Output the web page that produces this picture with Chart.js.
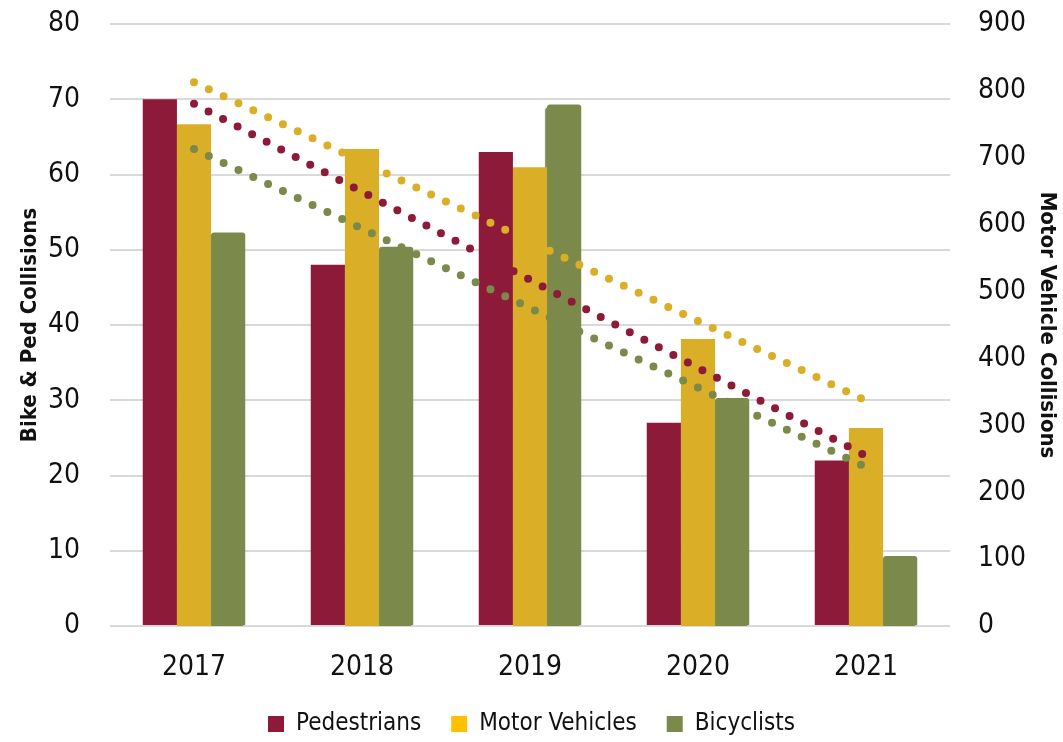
<!DOCTYPE html>
<html>
<head>
<meta charset="utf-8">
<title>Collisions 2017-2021</title>
<script src="https://cdn.jsdelivr.net/npm/chart.js@4.4.1/dist/chart.umd.min.js"></script>
<style>
    html, body { margin: 0; padding: 0; background: #ffffff; }
    #wrap { width: 1063px; height: 742px; }
</style>
</head>
<body>
<div id="wrap"><canvas id="collisionsChart"></canvas></div>
<script>
// Dados
const years = ['2017', '2018', '2019', '2020', '2021'];
const pedestrians = [70, 48, 63, 27, 22];
const motorVehicles = [750, 713, 686, 429, 296];
const bicyclists = [52.3, 50.4, 69.3, 30.3, 9.3];

// Linhas de tendência: valor no primeiro e no último ano
const pedTrend = [69.4, 22.6];
const motorTrend = [813, 337];
const bikeTrend = [63.4, 21.1];

const RED = '#8e1a3a';
const GOLD = '#dbae27';
const GREEN = '#7b8a4a';
const FONT = "'Liberation Sans Narrow', 'DejaVu Sans Condensed', 'Roboto Condensed', sans-serif";

// só o primeiro e o último ponto, o resto fica vazio
function trendPoints(ends) {
    return years.map((y, i) => {
        if (i === 0) return ends[0];
        if (i === years.length - 1) return ends[1];
        return null;
    });
}

function trendLine(label, ends, color, axis) {
    return {
        type: 'line',
        label: label,
        data: trendPoints(ends),
        yAxisID: axis,
        borderColor: color,
        borderWidth: 8,
        borderDash: [0, 16.4],
        borderCapStyle: 'round',
        pointRadius: 0,
        spanGaps: true,
        fill: false,
        order: -1
    };
}

// eixo vertical com largura fixa e sem o padding extra do topo
function fixAxis(width) {
    return scale => {
        scale.width = width;
        scale.paddingTop = 24;
        scale.paddingBottom = 0;
    };
}

// sombra leve das barras de bicicleta
const barShadow = {
    id: 'barShadow',
    beforeDatasetDraw(chart, args) {
        if (args.index !== 2) return;
        const ctx = chart.ctx;
        ctx.save();
        ctx.shadowColor = 'rgba(110, 124, 62, 0.9)';
        ctx.shadowOffsetX = -2;
        ctx.shadowOffsetY = 3;
        ctx.shadowBlur = 1;
    },
    afterDatasetDraw(chart, args) {
        if (args.index === 2) chart.ctx.restore();
    }
};

const ctx = document.getElementById('collisionsChart').getContext('2d');
const chart = new Chart(ctx, {
    type: 'bar',
    data: {
        labels: years,
        datasets: [
            {
                label: 'Pedestrians',
                data: pedestrians,
                yAxisID: 'yLeft',
                backgroundColor: RED
            },
            {
                label: 'Motor Vehicles',
                data: motorVehicles,
                yAxisID: 'yRight',
                backgroundColor: GOLD
            },
            {
                label: 'Bicyclists',
                data: bicyclists,
                yAxisID: 'yLeft',
                backgroundColor: GREEN,
                borderRadius: { topLeft: 3, topRight: 3 },
                borderSkipped: 'bottom'
            },
            trendLine('Pedestrians trend', pedTrend, RED, 'yLeft'),
            trendLine('Motor Vehicles trend', motorTrend, GOLD, 'yRight'),
            trendLine('Bicyclists trend', bikeTrend, GREEN, 'yLeft')
        ]
    },
    options: {
        responsive: true,
        maintainAspectRatio: false,
        animation: false,
        categoryPercentage: 0.61,
        barPercentage: 1.0,
        layout: {
            padding: { top: 0, right: 0, bottom: -4, left: 0 }
        },
        plugins: {
            tooltip: { enabled: false },
            legend: {
                position: 'bottom',
                labels: {
                    color: '#111111',
                    font: { family: FONT, size: 24 },
                    boxWidth: 16,
                    boxHeight: 16,
                    padding: 30,
                    filter: item => !item.text.endsWith('trend'),
                    generateLabels: chart => {
                        const items = Chart.defaults.plugins.legend.labels.generateLabels(chart);
                        items.forEach(item => {
                            item.lineWidth = 0;
                            if (item.text === 'Motor Vehicles') item.fillStyle = '#ffc000';
                        });
                        return items;
                    }
                }
            }
        },
        scales: {
            x: {
                grid: { display: false },
                border: { display: false },
                ticks: {
                    color: '#111111',
                    font: { family: FONT, size: 28 },
                    padding: 17
                },
                afterFit: scale => { scale.height = 56; }
            },
            yLeft: {
                position: 'left',
                min: 0,
                max: 80,
                ticks: {
                    stepSize: 10,
                    color: '#111111',
                    font: { family: FONT, size: 28 },
                    padding: 30
                },
                grid: { color: '#d9d9d9', lineWidth: 2, drawTicks: false },
                border: { display: false },
                title: {
                    display: true,
                    text: 'Bike & Ped Collisions',
                    color: '#111111',
                    font: { family: FONT, size: 22, weight: 'bold' },
                    padding: { top: 17, bottom: 0 }
                },
                afterFit: fixAxis(110)
            },
            yRight: {
                position: 'right',
                min: 0,
                max: 900,
                ticks: {
                    stepSize: 100,
                    color: '#111111',
                    font: { family: FONT, size: 28 },
                    padding: 28
                },
                grid: { display: false, drawTicks: false },
                border: { display: false },
                title: {
                    display: true,
                    text: 'Motor Vehicle Collisions',
                    color: '#111111',
                    font: { family: FONT, size: 22, weight: 'bold' },
                    padding: { top: 3, bottom: 0 }
                },
                afterFit: fixAxis(113)
            }
        }
    },
    plugins: [barShadow]
});
</script>
</body>
</html>
